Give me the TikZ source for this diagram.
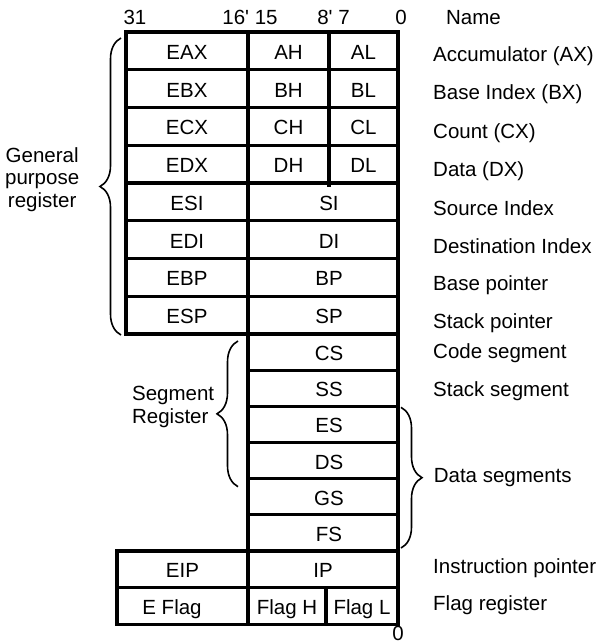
\documentclass[tikz,border=0pt]{standalone}
\usepackage{fontspec}
\setmainfont{Liberation Sans}
\usetikzlibrary{positioning,decorations.pathreplacing}

\begin{document}
\begin{tikzpicture}[x=1pt, y=-1pt,
  font=\fontsize{20.5}{22.5}\selectfont,
  cell/.style={draw, line width=3.2pt, inner sep=0pt, outer sep=0pt, text height=17pt, text depth=0pt, minimum height=37.75pt},
  gpcell/.style={cell, minimum width=122pt},
  hicell/.style={cell, minimum width=81pt},
  locell/.style={cell, minimum width=69pt},
  widecell/.style={cell, minimum width=150pt},
  segcell/.style={widecell, minimum height=36.17pt},
  offcell/.style={execute at begin node={\hspace*{12pt}}},
  ptrcell/.style={cell, minimum width=131pt, minimum height=36.17pt},
  flagcell/.style={cell, minimum height=37pt},
  bitlbl/.style={anchor=base},
  regname/.style={anchor=base west, inner sep=0pt},
  brc/.style={decorate, decoration={brace, amplitude=21pt}, line width=1.6pt},
  grplbl/.style={align=center, inner sep=0pt}
]
\useasboundingbox (0,0) rectangle (598,644);

% bit positions and heading
\node[bitlbl] (b31) at (135,25) {31};
\node[bitlbl] (b16) at (250,25) {16\textquotesingle{} 15};
\node[bitlbl] (b8) at (333.5,25) {8\textquotesingle{} 7};
\node[bitlbl] (b0) at (401,25) {0};
\node[bitlbl] (hdr) at (473.5,25) {Name};

% general purpose registers
\node[gpcell, anchor=north west] (eax) at (126,32) {EAX};
\node[hicell, right=0pt of eax] (ah) {AH};
\node[locell, right=0pt of ah] (al) {AL};
\node[gpcell, below=0pt of eax] (ebx) {EBX};
\node[hicell, right=0pt of ebx] (bh) {BH};
\node[locell, right=0pt of bh] (bl) {BL};
\node[gpcell, below=0pt of ebx] (ecx) {ECX};
\node[hicell, right=0pt of ecx] (ch) {CH};
\node[locell, right=0pt of ch] (cl) {CL};
\node[gpcell, below=0pt of ecx] (edx) {EDX};
\node[hicell, right=0pt of edx] (dh) {DH};
\node[locell, right=0pt of dh] (dl) {DL};
\draw[line width=3.2pt] (dh.south east) -- ++(0,4);

\node[gpcell, below=0pt of edx] (esi) {ESI};
\node[widecell, offcell, right=0pt of esi] (si) {SI};
\node[gpcell, below=0pt of esi] (edi) {EDI};
\node[widecell, offcell, right=0pt of edi] (di) {DI};
\node[gpcell, below=0pt of edi] (ebp) {EBP};
\node[widecell, offcell, right=0pt of ebp] (bp) {BP};
\node[gpcell, below=0pt of ebp] (esp) {ESP};
\node[widecell, offcell, right=0pt of esp] (sp) {SP};

% segment registers
\node[segcell, offcell, below=0pt of sp] (cs) {CS};
\node[segcell, offcell, below=0pt of cs] (ss) {SS};
\node[segcell, offcell, below=0pt of ss] (es) {ES};
\node[segcell, offcell, below=0pt of es] (ds) {DS};
\node[segcell, offcell, below=0pt of ds] (gs) {GS};
\node[segcell, offcell, below=0pt of gs] (fs) {FS};

% instruction pointer and flags
\node[segcell, below=0pt of fs] (ip) {IP};
\node[ptrcell, left=0pt of ip] (eip) {EIP};
\node[flagcell, minimum width=78pt, below right=0pt of ip.south west] (flagh) {Flag H};
\node[flagcell, minimum width=72pt, right=0pt of flagh] (flagl) {Flag L};
\node[flagcell, minimum width=131pt, left=0pt of flagh, execute at end node={\hspace*{21pt}}] (eflag) {E Flag};
\node[bitlbl] (b0low) at (398,640) {0};

% register names
\node[regname] (nax) at (433,61.7) {Accumulator (AX)};
\node[regname] (nbx) at (433,100) {Base Index (BX)};
\node[regname] (ncx) at (433,138.3) {Count (CX)};
\node[regname] (ndx) at (433,176.7) {Data (DX)};
\node[regname] (nsi) at (433,215) {Source Index};
\node[regname] (ndi) at (433,253.3) {Destination Index};
\node[regname] (nbp) at (433,290) {Base pointer};
\node[regname] (nsp) at (433,328.3) {Stack pointer};
\node[regname] (ncs) at (433,358.3) {Code segment};
\node[regname] (nss) at (433,396.7) {Stack segment};
\node[regname] (nip) at (433,573.3) {Instruction pointer};
\node[regname] (nfl) at (433,610) {Flag register};

% groups
\draw[brc] ([xshift=-5pt,yshift=-1pt]esp.south west) -- ([xshift=-5pt,yshift=-6pt]eax.north west)
  node[grplbl, midway, left=41pt, yshift=7pt] (gplbl) {General\\purpose\\register};
\draw[brc] ([xshift=-10pt,yshift=-8pt]ds.south west) -- ([xshift=-10pt,yshift=-7pt]cs.north west)
  node[grplbl, align=left, midway, left=23pt, yshift=7pt] (seglbl) {Segment\\Register};
\draw[brc] ([xshift=3pt,yshift=-1pt]es.north east) -- ([xshift=3pt,yshift=3pt]fs.south east)
  node[inner sep=0pt, midway, right=32pt] (dslbl) {Data segments};

\end{tikzpicture}
\end{document}
